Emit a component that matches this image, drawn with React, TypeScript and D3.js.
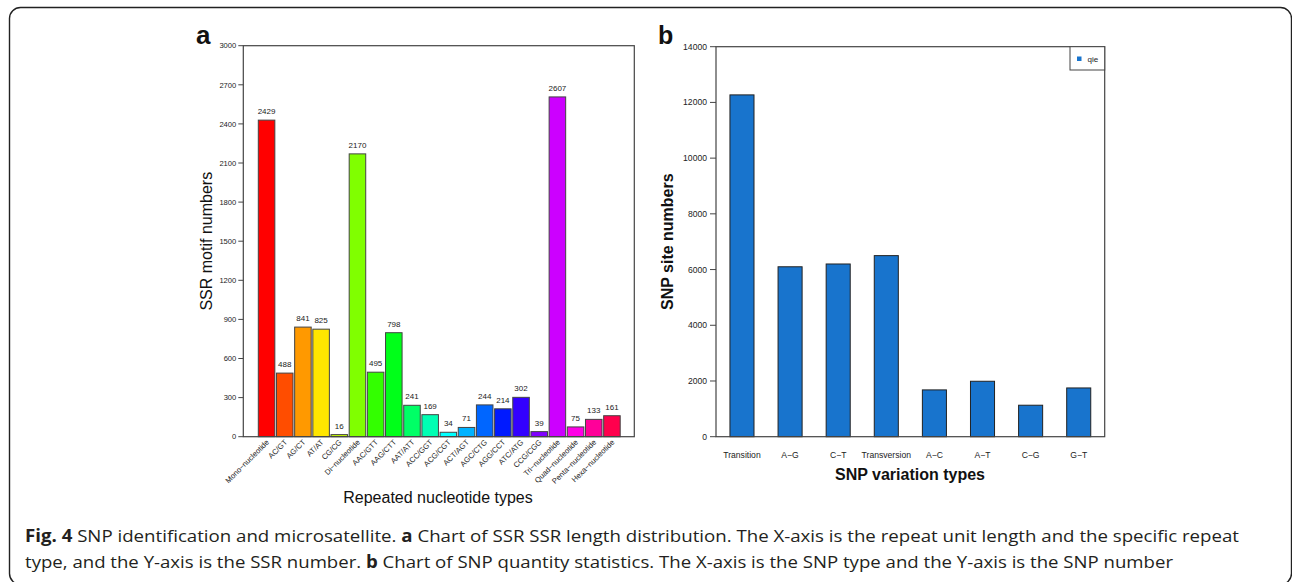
import React from "react";
import * as d3 from "d3";

// panel a: SSR motif counts
const ssrTypes = [
  "Mono−nucleotide", "AC/GT", "AG/CT", "AT/AT", "CG/CG", "Di−nucleotide",
  "AAC/GTT", "AAG/CTT", "AAT/ATT", "ACC/GGT", "ACG/CGT", "ACT/AGT",
  "AGC/CTG", "AGG/CCT", "ATC/ATG", "CCG/CGG", "Tri−nucleotide",
  "Quad−nucleotide", "Penta−nucleotide", "Hexa−nucleotide",
];
const ssrCounts = [2429, 488, 841, 825, 16, 2170, 495, 798, 241, 169, 34, 71, 244, 214, 302, 39, 2607, 75, 133, 161];
const ssrTicks = [0, 300, 600, 900, 1200, 1500, 1800, 2100, 2400, 2700, 3000];

// panel b: SNP site counts
const snpTypes = ["Transition", "A−G", "C−T", "Transversion", "A−C", "A−T", "C−G", "G−T"];
const snpCounts = [12270, 6100, 6200, 6500, 1680, 1990, 1130, 1750];
const snpTicks = [0, 2000, 4000, 6000, 8000, 10000, 12000, 14000];
const snpSeries = "qie";

const captionLine1 = [
  { t: "Fig. 4", b: true },
  { t: " SNP identification and microsatellite. ", b: false },
  { t: "a", b: true },
  { t: " Chart of SSR SSR length distribution. The X-axis is the repeat unit length and the specific repeat", b: false },
];
const captionLine2 = [
  { t: "type, and the Y-axis is the SSR number. ", b: false },
  { t: "b", b: true },
  { t: " Chart of SNP quantity statistics. The X-axis is the SNP type and the Y-axis is the SNP number", b: false },
];

const FONT = "'Liberation Sans', Arial, Helvetica, sans-serif";

// R's rainbow(n) == hsv(h,1,1) == hsl(h,1,.5)
const rainbow = (n: number) => d3.range(n).map(i => d3.hsl((i / n) * 360, 1, 0.5).formatHex());

function PanelA() {
  const top = 45.7, bottom = 436.7, left = 243.3, right = 634.3;
  const x = d3.scaleBand().domain(ssrTypes).range([258.3, 620.2]).paddingInner(0.09).paddingOuter(0);
  const y = d3.scaleLinear().domain([0, 3000]).range([bottom, top]);
  const colors = rainbow(ssrTypes.length);

  return (
    <g fontFamily={FONT}>
      <text x={196} y={44} fontSize={26} fontWeight="bold" fill="#111">a</text>
      {ssrTypes.map((k, i) => (
        <g key={k}>
          <rect x={x(k)} y={y(ssrCounts[i])} width={x.bandwidth()} height={bottom - y(ssrCounts[i])}
            fill={colors[i]} stroke="#444" strokeWidth={1} />
          <text x={x(k)! + x.bandwidth() / 2} y={y(ssrCounts[i]) - 6} fontSize={8} textAnchor="middle" fill="#222">
            {ssrCounts[i]}
          </text>
          <text transform={`translate(${x(k)! + x.bandwidth() / 2 + 3},${bottom + 6}) rotate(-45)`}
            fontSize={7.6} textAnchor="end" fill="#222">{k}</text>
        </g>
      ))}
      <rect x={left} y={top} width={right - left} height={bottom - top} fill="none" stroke="#444" strokeWidth={1.2} />
      {ssrTicks.map(t => (
        <g key={t}>
          <line x1={left - 5} x2={left} y1={y(t)} y2={y(t)} stroke="#444" />
          <text x={left - 7} y={y(t) + 2.7} fontSize={7.6} textAnchor="end" fill="#222">{t}</text>
        </g>
      ))}
      <text transform={`translate(212,${(top + bottom) / 2}) rotate(-90)`} fontSize={16} textAnchor="middle" fill="#111">
        SSR motif numbers
      </text>
      <text x={438} y={503} fontSize={16} textAnchor="middle" fill="#111">Repeated nucleotide types</text>
    </g>
  );
}

function PanelB() {
  const top = 46.7, bottom = 436.7, left = 716, right = 1104.7;
  const x = d3.scaleBand().domain(snpTypes).range([left, right]).paddingInner(0.5).paddingOuter(0.29);
  const y = d3.scaleLinear().domain([0, 14000]).range([bottom, top]);

  return (
    <g fontFamily={FONT}>
      <text x={658} y={44} fontSize={25} fontWeight="bold" fill="#111">b</text>
      {snpTypes.map((k, i) => (
        <g key={k}>
          <rect x={x(k)} y={y(snpCounts[i])} width={x.bandwidth()} height={bottom - y(snpCounts[i])}
            fill="#1874CD" stroke="#222" strokeWidth={1} />
          <text x={x(k)! + x.bandwidth() / 2} y={458} fontSize={8.6} textAnchor="middle" fill="#222">{k}</text>
        </g>
      ))}
      <rect x={left} y={top} width={right - left} height={bottom - top} fill="none" stroke="#444" strokeWidth={1.2} />
      {snpTicks.map(t => (
        <g key={t}>
          <line x1={left - 6} x2={left} y1={y(t)} y2={y(t)} stroke="#444" />
          <text x={left - 9} y={y(t) + 3} fontSize={8.6} textAnchor="end" fill="#222">{t}</text>
        </g>
      ))}
      <g>
        <rect x={1070} y={top} width={right - 1070} height={23.3} fill="#fff" stroke="#444" strokeWidth={1} />
        <rect x={1077} y={56.5} width={4.5} height={4.5} fill="#1874CD" />
        <text x={1087.5} y={61.5} fontSize={8} fill="#222">{snpSeries}</text>
      </g>
      <text transform={`translate(673,${(top + bottom) / 2}) rotate(-90)`} fontSize={16} fontWeight="bold"
        textAnchor="middle" fill="#111">SNP site numbers</text>
      <text x={910} y={480} fontSize={16} fontWeight="bold" textAnchor="middle" fill="#111">SNP variation types</text>
    </g>
  );
}

function Caption() {
  const line = (parts: { t: string; b: boolean }[], yy: number, len: number) => (
    <text x={25} y={yy} fontSize={17} fill="#231f20" fontFamily="'Open Sans', 'Noto Sans', sans-serif"
      textLength={len} lengthAdjust="spacingAndGlyphs">
      {parts.map((p, i) => (
        <tspan key={i} fontWeight={p.b ? "bold" : "normal"}>{p.t}</tspan>
      ))}
    </text>
  );
  return (
    <g>
      {line(captionLine1, 542, 1214)}
      {line(captionLine2, 568, 1148)}
    </g>
  );
}

export default function App() {
  return (
    <svg width={1292} height={582} style={{ position: "absolute", left: 0, top: 0, background: "#fff" }}>
      <rect x={9.5} y={7.5} width={1282} height={577} rx={11} fill="#fff" stroke="#222" strokeWidth={1.4} />
      <PanelA />
      <PanelB />
      <Caption />
    </svg>
  );
}
